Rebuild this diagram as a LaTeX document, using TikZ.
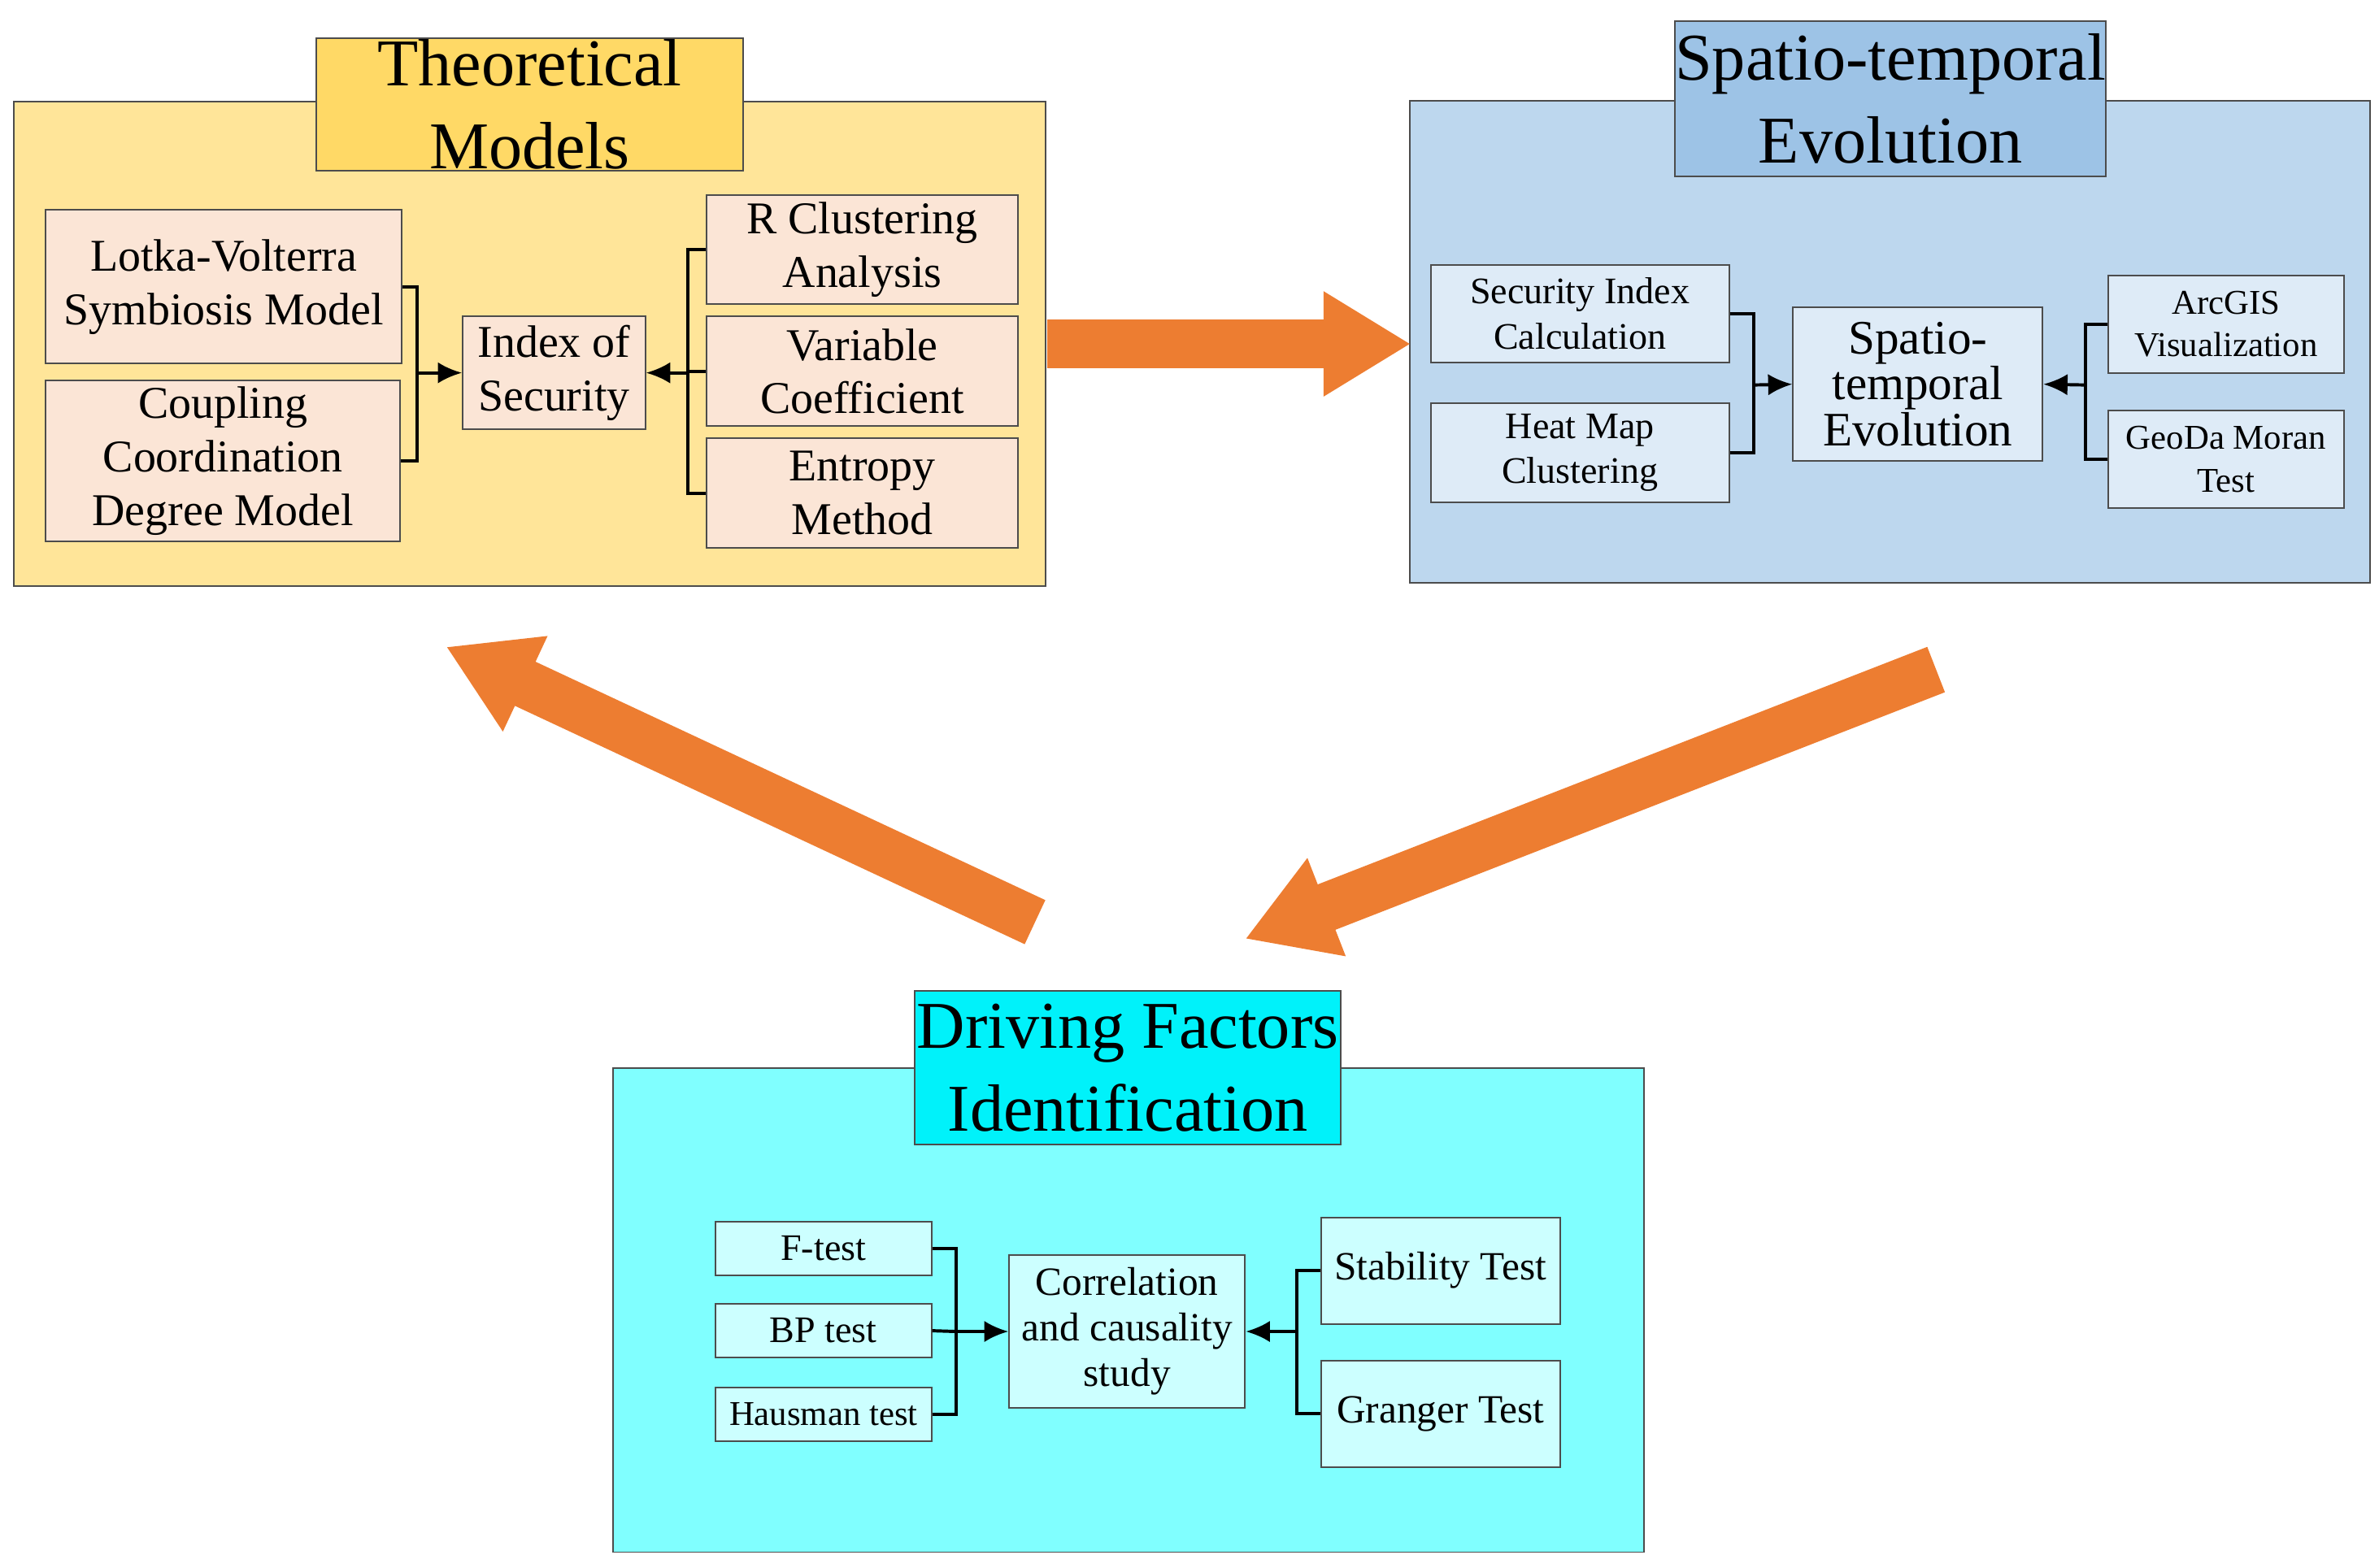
\documentclass[tikz,border=0pt]{standalone}
\usepackage{fontspec}
\setmainfont{Liberation Serif}
\usetikzlibrary{arrows.meta}
\definecolor{yelbg}{HTML}{FFE599}
\definecolor{yeltl}{HTML}{FFD966}
\definecolor{peach}{HTML}{FBE5D6}
\definecolor{blubg}{HTML}{BDD7EE}
\definecolor{blutl}{HTML}{9DC3E6}
\definecolor{bluin}{HTML}{DEEBF7}
\definecolor{cyabg}{HTML}{80FFFF}
\definecolor{cyatl}{HTML}{00F2FA}
\definecolor{cyain}{HTML}{CCFFFF}
\definecolor{bigarrow}{HTML}{ED7D31}
\tikzset{
  box/.style 2 args={draw=black!70, line width=0.6pt, inner sep=0pt, align=center,
    minimum width=#1*0.02cm, minimum height=#2*0.02cm},
  ttl/.style={font=\fontsize{25}{31}\selectfont},
  mid/.style={font=\fontsize{17}{20}\selectfont},
  sml/.style={font=\fontsize{14}{17}\selectfont},
  conn/.style={line width=1.2pt},
  tip/.style={conn, -{Latex[length=9pt,width=8pt]}},
  fat/.style={draw=bigarrow, line width=0.64cm, -{Triangle[length=1.15cm,width=1.3cm]}}
}
\begin{document}
\begin{tikzpicture}[x=0.02cm, y=-0.02cm]
  \useasboundingbox (0,0) rectangle (1563,1030);
  % theoretical models
  \node[box={678}{318}, fill=yelbg] (tmodel) at (348,226) {};
  \node[box={280}{87}, fill=yeltl, ttl] (ttheory) at (348,68.5) {Theoretical\\Models};
  \node[box={234}{101}, fill=peach, mid] (lotka) at (147,188.5) {Lotka-Volterra\\Symbiosis Model};
  \node[box={233}{106}, fill=peach, mid] (coupling) at (146.5,303) {Coupling\\Coordination\\Degree Model};
  \node[box={120}{74}, fill=peach, mid] (index) at (364,245) {Index of\\Security};
  \node[box={205}{72}, fill=peach, mid] (rclus) at (566.5,164) {R Clustering\\Analysis};
  \node[box={205}{72}, fill=peach, mid] (varco) at (566.5,244) {Variable\\Coefficient};
  \node[box={205}{72}, fill=peach, mid] (entropy) at (566.5,324) {Entropy\\Method};
  \coordinate (jL) at (274,245);
  \coordinate (jR) at (452,245);
  \draw[conn] (lotka.east) -| (jL);
  \draw[conn] (coupling.east) -| (jL);
  \draw[tip] (jL) -- (index.west);
  \draw[conn] (rclus.west) -| (jR);
  \draw[conn] (varco.west) -| (jR);
  \draw[conn] (entropy.west) -| (jR);
  \draw[tip] (jR) -- (index.east);
  % spatio-temporal evolution
  \node[box={631}{317}, fill=blubg] (smodel) at (1241.5,224.5) {};
  \node[box={280}{102}, fill=blutl, ttl] (tspatio) at (1242,65) {Spatio-temporal\\Evolution};
  \node[box={196}{64}, fill=bluin, sml] (secidx) at (1038,206) {Security Index\\Calculation};
  \node[box={196}{65}, fill=bluin, sml] (heatmap) at (1038,297.5) {Heat Map\\Clustering};
  \node[box={164}{101}, fill=bluin, font=\fontsize{18}{16}\selectfont] (spatio) at (1260,252.5) {Spatio-\\temporal\\Evolution};
  \node[box={155}{64}, fill=bluin, font=\fontsize{13}{16}\selectfont] (arcgis) at (1462.5,213) {ArcGIS\\Visualization};
  \node[box={155}{64}, fill=bluin, font=\fontsize{13}{16}\selectfont] (geoda) at (1462.5,302) {GeoDa Moran\\Test};
  \coordinate (jS) at (1152,253);
  \coordinate (jA) at (1370,253);
  \draw[conn] (secidx.east) -| (jS);
  \draw[conn] (heatmap.east) -| (jS);
  \draw[tip] (jS) -- (spatio.west);
  \draw[conn] (arcgis.west) -| (jA);
  \draw[conn] (geoda.west) -| (jA);
  \draw[tip] (jA) -- (spatio.east);
  % driving factors
  \node[box={677}{318}, fill=cyabg] (dmodel) at (741.5,861) {};
  \node[box={280}{101}, fill=cyatl, ttl] (tdriving) at (741,701.5) {Driving Factors\\Identification};
  \node[box={142}{35}, fill=cyain, sml] (ftest) at (541,820.5) {F-test};
  \node[box={142}{35}, fill=cyain, sml] (bptest) at (541,874.5) {BP test};
  \node[box={142}{35}, fill=cyain, font=\fontsize{13}{16}\selectfont] (haustest) at (541,929.5) {Hausman test};
  \node[box={155}{100}, fill=cyain, font=\fontsize{15}{17}\selectfont] (corr) at (740.5,875) {Correlation\\and causality\\study};
  \node[box={157}{70}, fill=cyain, font=\fontsize{15}{17}\selectfont] (stab) at (946.5,835) {Stability Test};
  \node[box={157}{70}, fill=cyain, font=\fontsize{15}{17}\selectfont] (granger) at (946.5,929) {Granger Test};
  \coordinate (jF) at (628,875);
  \coordinate (jG) at (852,875);
  \draw[conn] (ftest.east) -| (jF);
  \draw[conn] (bptest.east) -- (jF);
  \draw[conn] (haustest.east) -| (jF);
  \draw[tip] (jF) -- (corr.west);
  \draw[conn] (stab.west) -| (jG);
  \draw[conn] (granger.west) -| (jG);
  \draw[tip] (jG) -- (corr.east);
  % big arrows
  \coordinate (a1) at (688,226);
  \coordinate (a2) at (927,226);
  \coordinate (b1) at (1272,440);
  \coordinate (b2) at (818,617);
  \coordinate (c1) at (680,606);
  \coordinate (c2) at (293,425);
  \draw[fat] (a1) -- (a2);
  \draw[fat] (b1) -- (b2);
  \draw[fat] (c1) -- (c2);
\end{tikzpicture}
\end{document}
